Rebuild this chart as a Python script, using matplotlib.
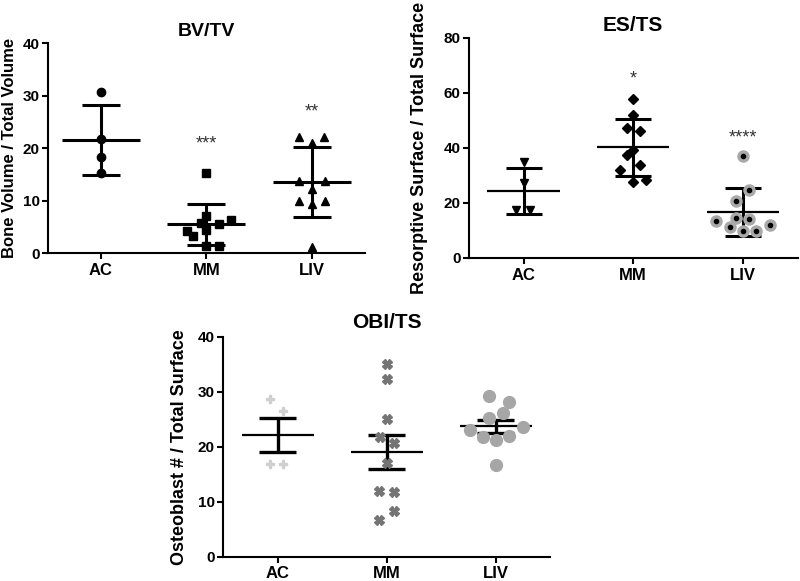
"""Bone histomorphometry scatter plots: BV/TV, ES/TS and OBI/TS by group."""

import numpy as np
import matplotlib
matplotlib.use("Agg")
import matplotlib.pyplot as plt

plt.rcParams["font.family"] = ["Liberation Sans", "DejaVu Sans"]
plt.rcParams["font.weight"] = "bold"

groups = ["AC", "MM", "LIV"]

# BV/TV values, with horizontal scatter offsets
bv_ac = [30.7, 21.8, 18.2, 15.3]
bv_mm = [15.3, 7.0, 5.8, 5.6, 6.2, 4.2, 4.3, 3.3, 1.4, 1.4]
bv_liv = [22.1, 22.1, 20.9, 13.7, 13.7, 12.2, 9.9, 9.9, 9.3, 1.2]
bv_ac_dx = [0, 0, 0, 0]
bv_mm_dx = [0, 0, -0.055, 0.115, 0.235, -0.18, 0, -0.125, 0, 0.115]
bv_liv_dx = [-0.125, 0.115, 0, -0.12, 0.12, 0, -0.12, 0.12, 0, 0]
bv_stars = ["", "***", "**"]
bv_star_y = [0, 20.8, 26.9]

# ES/TS values
es_ac = [34.8, 27.2, 17.5, 17.5]
es_mm = [57.7, 52.0, 47.2, 46.2, 39.3, 37.5, 33.8, 32.0, 27.8, 28.4]
es_liv = [37.2, 24.7, 20.8, 14.4, 14.0, 13.6, 12.0, 11.4, 9.8, 9.7]
es_ac_dx = [0, 0, -0.065, 0.06]
es_mm_dx = [0, 0, -0.06, 0.06, 0, -0.06, 0.06, -0.12, 0, 0.12]
es_liv_dx = [0, 0.06, -0.06, -0.06, 0.06, -0.245, 0.245, -0.12, 0, 0.12]
es_stars = ["", "*", "****"]
es_star_y = [0, 65.0, 43.6]

# OBI/TS values
ob_ac = [28.6, 26.4, 16.9, 16.9]
ob_mm = [35.0, 32.3, 25.0, 21.7, 20.6, 17.1, 12.0, 11.8, 8.3, 6.7]
ob_liv = [29.2, 28.1, 26.2, 25.2, 23.0, 23.6, 21.7, 21.2, 21.9, 16.7]
ob_ac_dx = [-0.07, 0.05, -0.07, 0.05]
ob_mm_dx = [0, 0, 0, -0.06, 0.065, 0, -0.07, 0.065, 0.065, -0.07]
ob_liv_dx = [-0.06, 0.125, 0.065, -0.06, -0.24, 0.245, -0.12, 0, 0.125, 0]


def draw_mean_bars(ax, xpos, values, spread, mean_half, cap_half, mean_lw, bar_lw):
    values = np.asarray(values)
    mean = values.mean()
    if spread == "sd":
        err = values.std(ddof=1)
    else:
        err = values.std(ddof=1) / np.sqrt(len(values))
    ax.hlines(mean, xpos - mean_half, xpos + mean_half, color="black", lw=mean_lw, zorder=4)
    ax.vlines(xpos, mean - err, mean + err, color="black", lw=bar_lw, zorder=4)
    ax.hlines([mean - err, mean + err], xpos - cap_half, xpos + cap_half,
              color="black", lw=bar_lw, zorder=4)


def style_axes(ax, ymax, ystep, title, ylabel, label_x, title_size, label_size, title_pad):
    ax.set_xlim(-0.5, 2.5)
    ax.set_ylim(0, ymax)
    ax.set_yticks(np.arange(0, ymax + 1, ystep))
    ax.set_xticks(range(len(groups)))
    ax.set_xticklabels(groups, fontsize=12, fontweight="bold")
    ax.tick_params(axis="y", labelsize=11, width=1.5, length=4, pad=2)
    ax.tick_params(axis="x", width=1.5, length=4, pad=3)
    for lab in ax.get_yticklabels():
        lab.set_fontweight("bold")
    ax.spines["top"].set_visible(False)
    ax.spines["right"].set_visible(False)
    ax.spines["left"].set_linewidth(1.5)
    ax.spines["bottom"].set_linewidth(1.5)
    ax.set_title(title, fontsize=title_size, fontweight="bold", pad=title_pad)
    ax.set_ylabel(ylabel, fontsize=label_size, fontweight="bold")
    ax.yaxis.set_label_coords(label_x, 0.5)


fig = plt.figure(figsize=(8.0, 5.81), dpi=100)

# BV/TV
ax1 = fig.add_axes([0.06, 0.5645, 0.396, 0.3614])
ax1.plot(np.array(bv_ac_dx) + 0, bv_ac, "o", color="black", ms=6, zorder=5)
ax1.plot(np.array(bv_mm_dx) + 1, bv_mm, "s", color="black", ms=5.5, zorder=5)
ax1.plot(np.array(bv_liv_dx) + 2, bv_liv, "^", color="black", ms=6, zorder=5)
for i, vals in enumerate([bv_ac, bv_mm, bv_liv]):
    draw_mean_bars(ax1, i, vals, "sd", 0.37, 0.18, 2.2, 2.2)
for i, s in enumerate(bv_stars):
    if s:
        ax1.text(i, bv_star_y[i], s, ha="center", va="center",
                 fontsize=13, fontweight="normal", color="#333333")
style_axes(ax1, 40, 10, "BV/TV", "Bone Volume / Total Volume", -0.098, 14, 12, 5)

# ES/TS
ax2 = fig.add_axes([0.586, 0.556, 0.411, 0.3787])
ax2.plot(np.array(es_ac_dx) + 0, es_ac, "v", color="black", ms=6, zorder=5)
ax2.plot(np.array(es_mm_dx) + 1, es_mm, "D", color="black", ms=4.8, zorder=5)
ax2.plot(np.array(es_liv_dx) + 2, es_liv, "o", color="#a9a9a9", ms=8, zorder=5)
ax2.plot(np.array(es_liv_dx) + 2, es_liv, "o", color="black", ms=3, zorder=6)
for i, vals in enumerate([es_ac, es_mm, es_liv]):
    draw_mean_bars(ax2, i, vals, "sd", 0.33, 0.165, 1.6, 2.2)
for i, s in enumerate(es_stars):
    if s:
        ax2.text(i, es_star_y[i], s, ha="center", va="center",
                 fontsize=13, fontweight="normal", color="#333333")
style_axes(ax2, 80, 20, "ES/TS", "Resorptive Surface / Total Surface", -0.125, 15, 13, 5)

# OBI/TS
ax3 = fig.add_axes([0.279, 0.0418, 0.409, 0.3787])
ax3.plot(np.array(ob_ac_dx) + 0, ob_ac, "P", color="#cfcfcf", ms=6, zorder=5)
ax3.plot(np.array(ob_mm_dx) + 1, ob_mm, "X", color="#747474", ms=6.5, zorder=5)
ax3.plot(np.array(ob_liv_dx) + 2, ob_liv, "o", color="#a6a6a6", ms=8.5, zorder=5)
for i, vals in enumerate([ob_ac, ob_mm, ob_liv]):
    draw_mean_bars(ax3, i, vals, "sem", 0.33, 0.17, 1.6, 2.4)
style_axes(ax3, 40, 10, "OBI/TS", "Osteoblast # / Total Surface", -0.107, 15, 13, 6)

fig.savefig("out.png", dpi=100)
